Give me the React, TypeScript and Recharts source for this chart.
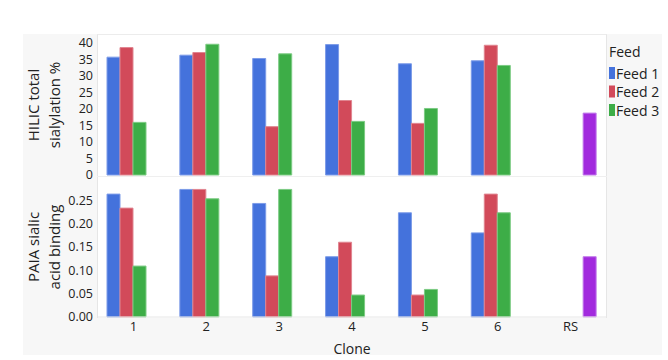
import React from 'react';
import { BarChart, Bar, XAxis, YAxis } from 'recharts';

const categories = ['1', '2', '3', '4', '5', '6', 'RS'];
const feedNames = ['Feed 1', 'Feed 2', 'Feed 3'];

const hilicFeed1 = [35.6, 36.2, 35.2, 39.4, 33.6, 34.5, null];
const hilicFeed2 = [38.5, 37.0, 14.6, 22.5, 15.6, 39.2, null];
const hilicFeed3 = [15.9, 39.5, 36.6, 16.2, 20.1, 33.1, null];
const hilicRS = [null, null, null, null, null, null, 18.7];

const paiaFeed1 = [0.263, 0.273, 0.243, 0.129, 0.223, 0.18, null];
const paiaFeed2 = [0.233, 0.273, 0.088, 0.16, 0.047, 0.263, null];
const paiaFeed3 = [0.109, 0.253, 0.273, 0.047, 0.059, 0.223, null];
const paiaRS = [null, null, null, null, null, null, 0.129];

const hilicTicks = [0, 5, 10, 15, 20, 25, 30, 35, 40];
const paiaTicks = [0, 0.05, 0.1, 0.15, 0.2, 0.25];

const COLORS = ['#4472DC', '#D24A5A', '#3DAD47', '#A22ADE'];
const STROKES = ['#7C9BE8', '#E08590', '#7CCB83', '#C27BEA'];

const hilicData = categories.map((c, i) => ({
  clone: c,
  f1: hilicFeed1[i],
  f2: hilicFeed2[i],
  f3: hilicFeed3[i],
  rs: hilicRS[i],
}));
const paiaData = categories.map((c, i) => ({
  clone: c,
  f1: paiaFeed1[i],
  f2: paiaFeed2[i],
  f3: paiaFeed3[i],
  rs: paiaRS[i],
}));

const FONT = '"Open Sans", sans-serif';
const keys = ['f1', 'f2', 'f3', 'rs'];

function bars() {
  return keys.map((k, i) => (
    <Bar
      key={k}
      dataKey={k}
      fill={COLORS[i]}
      stroke={STROKES[i]}
      strokeWidth={1}
      isAnimationActive={false}
    />
  ));
}

export default function App() {
  return (
    <div
      style={{
        position: 'absolute',
        left: 0,
        top: 0,
        width: 668,
        height: 360,
        background: '#fff',
        fontFamily: FONT,
        overflow: 'hidden',
      }}
    >
      <div style={{ position: 'absolute', left: 23, top: 34, width: 639, height: 321, background: '#f7f7f7' }} />
      <div
        style={{
          position: 'absolute',
          left: 97,
          top: 34,
          width: 510,
          height: 284,
          background: '#fff',
          borderLeft: '1px solid #e6e6e6',
          borderRight: '1px solid #e6e6e6',
          borderTop: '1px solid #ececec',
          boxSizing: 'border-box',
        }}
      />
      <div style={{ position: 'absolute', left: 97, top: 176, width: 510, height: 1, background: '#efefef' }} />

      <div style={{ position: 'absolute', left: 0, top: 0 }}>
        <BarChart
          width={668}
          height={195}
          data={hilicData}
          margin={{ top: 34, right: 61, bottom: 20, left: 57 }}
          barCategoryGap={10}
          barGap={0}
        >
          <XAxis dataKey="clone" hide />
          <YAxis
            width={40}
            domain={[0, 42.6]}
            ticks={hilicTicks}
            tickLine={false}
            axisLine={false}
            tickSize={0}
            tickMargin={4}
            interval={0}
            tick={{ fontSize: 12.5, fill: '#222', fontFamily: FONT }}
          />
          {bars()}
        </BarChart>
      </div>

      <div style={{ position: 'absolute', left: 0, top: 0 }}>
        <BarChart
          width={668}
          height={360}
          data={paiaData}
          margin={{ top: 177, right: 61, bottom: 23, left: 57 }}
          barCategoryGap={10}
          barGap={0}
        >
          <XAxis
            dataKey="clone"
            height={20}
            tickLine={false}
            axisLine={{ stroke: '#e6e6e6' }}
            tickSize={0}
            tickMargin={5}
            interval={0}
            tick={{ fontSize: 13, fill: '#222', fontFamily: FONT }}
          />
          <YAxis
            width={40}
            domain={[0, 0.2996]}
            ticks={paiaTicks}
            tickFormatter={(v: number) => v.toFixed(2)}
            tickLine={false}
            axisLine={false}
            tickSize={0}
            tickMargin={4}
            interval={0}
            tick={{ fontSize: 12.5, fill: '#222', fontFamily: FONT }}
          />
          {bars()}
        </BarChart>
      </div>

      <svg
        width={668}
        height={360}
        style={{ position: 'absolute', left: 0, top: 0, pointerEvents: 'none' }}
      >
        <g fontFamily={FONT} fill="#222" fontSize={15}>
          <text x={33} y={105} transform="rotate(-90 33 105)" textAnchor="middle" dominantBaseline="central">
            HILIC total
          </text>
          <text x={54} y={105} transform="rotate(-90 54 105)" textAnchor="middle" dominantBaseline="central">
            sialylation %
          </text>
          <text x={33} y={247} transform="rotate(-90 33 247)" textAnchor="middle" dominantBaseline="central">
            PAIA sialic
          </text>
          <text x={54} y={247} transform="rotate(-90 54 247)" textAnchor="middle" dominantBaseline="central">
            acid binding
          </text>
          <text x={352} y={348} textAnchor="middle" dominantBaseline="central" fontSize={14}>
            Clone
          </text>
          <text x={609} y={51} dominantBaseline="central" fontSize={14}>
            Feed
          </text>
          {feedNames.map((n, i) => (
            <g key={n}>
              <rect x={609} y={67 + i * 18.5} width={6} height={12} fill={COLORS[i]} />
              <text x={616} y={73 + i * 18.5} dominantBaseline="central" fontSize={14}>
                {n}
              </text>
            </g>
          ))}
        </g>
      </svg>
    </div>
  );
}
